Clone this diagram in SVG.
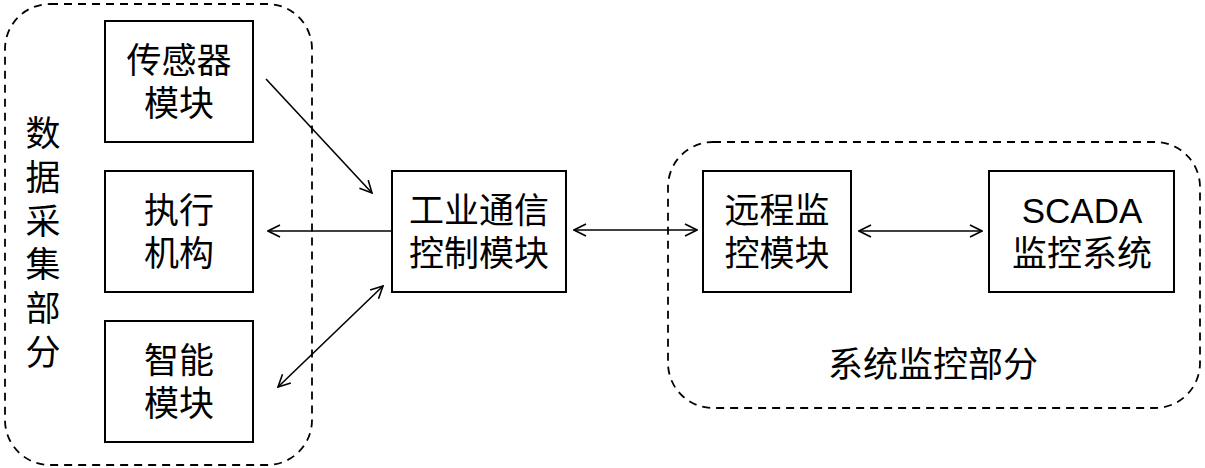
<svg xmlns="http://www.w3.org/2000/svg" width="1205" height="468" viewBox="0 0 1205 468">
<style>
.box{fill:#fff;stroke:#000;stroke-width:2}
.grp{fill:none;stroke:#000;stroke-width:1.8;stroke-dasharray:8 6}
.t{font-family:"Liberation Sans","Noto Sans CJK SC",sans-serif;font-size:35px;fill:#000;text-anchor:middle}
.c{fill:none;stroke:#000;stroke-width:1.6}
</style>
<defs>
<marker id="ah" viewBox="0 0 14 14" refX="13" refY="7" markerWidth="14" markerHeight="14" markerUnits="userSpaceOnUse" orient="auto-start-reverse">
<path d="M1,1 L13,7 L1,13" fill="none" stroke="#000" stroke-width="1.6"/>
</marker>
</defs>
<g id="group-data">
<rect class="grp" x="5" y="4" width="307" height="461" rx="45"/>
<text class="t"><tspan x="43" y="146">数</tspan><tspan x="43" y="190">据</tspan><tspan x="43" y="234">采</tspan><tspan x="43" y="277">集</tspan><tspan x="43" y="321">部</tspan><tspan x="43" y="365">分</tspan></text>
</g>
<g id="group-monitor">
<rect class="grp" x="668" y="142" width="532" height="266" rx="45"/>
<text class="t" x="933" y="377">系统监控部分</text>
</g>
<g id="sensor">
<rect class="box" x="105" y="21" width="148" height="121"/>
<text class="t"><tspan x="179" y="73">传感器</tspan><tspan x="179" y="116">模块</tspan></text>
</g>
<g id="actuator">
<rect class="box" x="105" y="171" width="148" height="121"/>
<text class="t"><tspan x="179" y="223">执行</tspan><tspan x="179" y="266">机构</tspan></text>
</g>
<g id="smart">
<rect class="box" x="105" y="321" width="148" height="121"/>
<text class="t"><tspan x="179" y="373">智能</tspan><tspan x="179" y="416">模块</tspan></text>
</g>
<g id="comm">
<rect class="box" x="392" y="171" width="174" height="121"/>
<text class="t"><tspan x="479" y="223">工业通信</tspan><tspan x="479" y="266">控制模块</tspan></text>
</g>
<g id="remote">
<rect class="box" x="703" y="171" width="148" height="121"/>
<text class="t"><tspan x="777" y="223">远程监</tspan><tspan x="777" y="266">控模块</tspan></text>
</g>
<g id="scada">
<rect class="box" x="989" y="171" width="185" height="121"/>
<text class="t"><tspan x="1082" y="223">SCADA</tspan><tspan x="1082" y="266">监控系统</tspan></text>
</g>
<g id="connectors">
<line class="c" x1="266" y1="79" x2="372" y2="193" marker-end="url(#ah)"/>
<line class="c" x1="392" y1="231" x2="268" y2="231" marker-end="url(#ah)"/>
<line class="c" x1="383" y1="286" x2="278" y2="387" marker-start="url(#ah)" marker-end="url(#ah)"/>
<line class="c" x1="574" y1="230" x2="697" y2="230" marker-start="url(#ah)" marker-end="url(#ah)"/>
<line class="c" x1="859" y1="231" x2="982" y2="231" marker-start="url(#ah)" marker-end="url(#ah)"/>
</g>
</svg>
